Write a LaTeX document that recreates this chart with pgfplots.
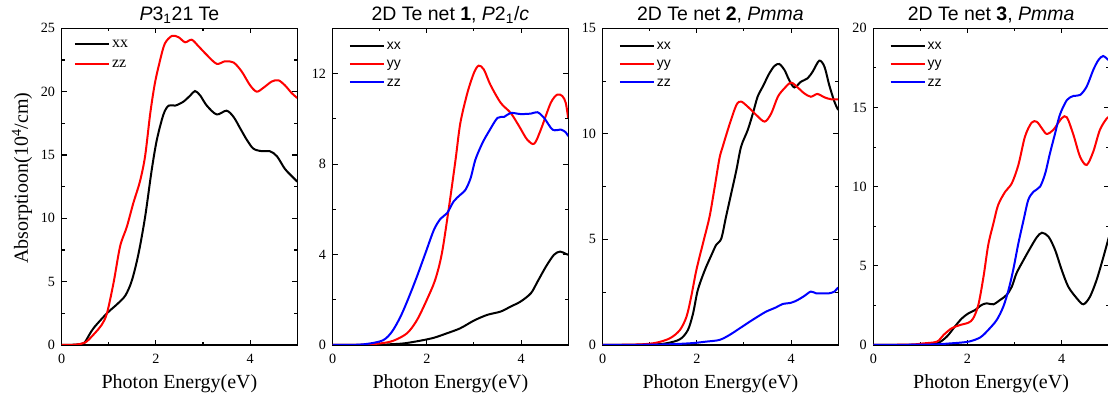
\documentclass[border=0pt]{standalone}
\usepackage{fontspec}
\setmainfont{Liberation Serif}
\newfontfamily\arial{Liberation Sans}
\usepackage{pgfplots}
\pgfplotsset{compat=1.18}
\pgfplotsset{
 panel/.style={
  scale only axis, width=176.6pt, height=237.5pt, anchor=south west,
  xmin=0, xmax=5, xtick={0,2,4}, minor xtick={1,3,5},
  axis line style={line width=0.9pt},
  every tick/.style={line width=0.8pt, black},
  major tick length=3.8pt, minor tick length=2.3pt,
  ticklabel style={font=\fontsize{10.6}{12}\selectfont},
  xticklabel style={yshift=-3pt},
  yticklabel style={xshift=-1.5pt},
  /pgf/number format/assume math mode=true,
  xlabel={Photon Energy(eV)},
  xlabel style={font=\fontsize{15}{18}\selectfont, at={(axis description cs:0.5,0)}, anchor=base, yshift=-32.5pt},
  every axis title shift=0pt,
  title style={font=\arial\fontsize{14.6}{17}\selectfont, at={(axis description cs:0.5,1)}, anchor=base, yshift=5.7pt},
  every axis plot/.append style={line width=1.5pt, smooth},
  legend cell align=left,
  legend image code/.code={\draw[##1] (0pt,0pt) -- (25.5pt,0pt);},
 },
 leg/.style={legend style={at={(0,1)}, anchor=north west, draw=none, fill=none, inner sep=0pt,
   font=\arial\fontsize{10.5}{12}\selectfont, row sep=0pt,
   nodes={inner xsep=1.5pt, inner ysep=0pt, text height=9.75pt, text depth=4pt}, xshift=12pt, yshift=-6pt}},
 legone/.style={legend style={at={(0,1)}, anchor=north west, draw=none, fill=none, inner sep=0pt,
   font=\fontsize{12}{14}\selectfont, row sep=0pt,
   nodes={inner xsep=1.5pt, inner ysep=0pt, text height=10.5pt, text depth=4.5pt}, xshift=9pt, yshift=-4pt}},
}
\begin{document}
\begin{tikzpicture}
% Panel 1
\begin{axis}[panel, legone, at={(46.3pt,42.75pt)},
  ymin=0, ymax=25, ytick={0,5,...,25}, minor ytick={2.5,7.5,...,22.5},
  title={{\itshape P}3\textsubscript{1}21 Te},
  ylabel={Absorptioon(10\textsuperscript{4}/cm)},
  ylabel style={font=\fontsize{15}{18}\selectfont, at={(axis description cs:-0.1687,0.527)}, anchor=center}]
\addplot[black] coordinates {(0,0)(0.3,0.03)(0.45,0.12)(0.5,0.26)(0.67,1.3)(0.96,2.5)(1.17,3.2)(1.35,3.9)(1.49,5.1)(1.63,7.2)(1.77,10.1)(1.91,13.8)(2.02,16.2)(2.16,18.2)(2.27,18.9)(2.41,18.9)(2.58,19.2)(2.73,19.7)(2.83,20.05)(2.94,19.7)(3.08,18.9)(3.29,18.2)(3.50,18.5)(3.65,18.0)(3.79,17.1)(3.93,16.2)(4.07,15.5)(4.25,15.3)(4.42,15.3)(4.57,14.9)(4.74,13.9)(4.92,13.2)(5.0,12.9)};
\addlegendentry{xx}
\addplot[red] coordinates {(0,0)(0.3,0.03)(0.5,0.2)(0.67,0.8)(0.85,1.6)(0.96,2.5)(1.10,4.9)(1.24,7.8)(1.38,9.3)(1.52,11.2)(1.66,12.9)(1.77,14.9)(1.88,18.3)(1.98,20.7)(2.09,22.5)(2.19,23.8)(2.34,24.4)(2.48,24.3)(2.62,23.9)(2.76,24.1)(2.90,23.6)(3.08,22.9)(3.29,22.2)(3.47,22.4)(3.65,22.3)(3.82,21.6)(4.0,20.5)(4.14,20.0)(4.28,20.3)(4.46,20.8)(4.60,20.9)(4.74,20.5)(4.88,19.9)(5.0,19.5)};
\addlegendentry{zz}
\end{axis}
% Panel 2
\begin{axis}[panel, leg, at={(249.5pt,42.75pt)},
  ymin=0, ymax=14, ytick={0,4,8,12}, minor ytick={2,6,10,14},
  title={2D Te net \textbf{1}, {\itshape P}2\textsubscript{1}/{\itshape c}}]
\addplot[black] coordinates {(0,0)(1.0,0.01)(1.2,0.03)(1.51,0.07)(1.86,0.19)(2.15,0.32)(2.43,0.52)(2.71,0.74)(3.0,1.08)(3.28,1.33)(3.57,1.48)(3.78,1.7)(3.99,1.92)(4.21,2.29)(4.35,2.8)(4.53,3.47)(4.70,3.99)(4.83,4.13)(4.95,4.03)(5.0,3.99)};
\addlegendentry{xx}
\addplot[red] coordinates {(0,0)(0.6,0.01)(1.01,0.07)(1.29,0.19)(1.58,0.52)(1.79,1.1)(2.0,2.0)(2.18,2.9)(2.32,4.06)(2.47,6.1)(2.61,8.2)(2.71,9.8)(2.86,11.14)(3.0,12.03)(3.10,12.35)(3.21,12.18)(3.35,11.5)(3.57,10.7)(3.78,10.26)(3.96,9.67)(4.13,9.08)(4.28,8.9)(4.42,9.52)(4.63,10.7)(4.77,11.07)(4.88,11.0)(4.95,10.7)(5.0,10.04)};
\addlegendentry{yy}
\addplot[blue] coordinates {(0,0)(0.5,0.01)(0.80,0.07)(1.08,0.22)(1.26,0.59)(1.44,1.25)(1.61,2.07)(1.79,3.03)(1.97,4.06)(2.15,5.09)(2.29,5.58)(2.43,5.83)(2.57,6.35)(2.71,6.64)(2.82,6.86)(2.93,7.38)(3.03,8.19)(3.18,8.93)(3.32,9.45)(3.50,10.04)(3.64,10.08)(3.78,10.26)(3.99,10.21)(4.21,10.23)(4.35,10.29)(4.49,10.04)(4.67,9.52)(4.85,9.52)(4.95,9.4)(5.0,9.23)};
\addlegendentry{zz}
\end{axis}
% Panel 3
\begin{axis}[panel, leg, at={(452.0pt,42.75pt)},
  ymin=0, ymax=15, ytick={0,5,10,15}, minor ytick={2.5,7.5,12.5},
  title={2D Te net \textbf{2}, {\itshape Pmma}}]
\addplot[black] coordinates {(0,0)(1.0,0.02)(1.35,0.08)(1.64,0.27)(1.81,0.71)(1.92,1.5)(2.02,2.6)(2.17,3.55)(2.31,4.26)(2.41,4.74)(2.52,5.05)(2.62,6.08)(2.73,7.18)(2.84,8.29)(2.94,9.4)(3.08,10.18)(3.19,10.97)(3.29,11.76)(3.40,12.24)(3.54,12.87)(3.65,13.22)(3.75,13.31)(3.86,13.03)(3.96,12.55)(4.07,12.2)(4.21,12.47)(4.35,12.63)(4.46,12.95)(4.60,13.47)(4.71,13.18)(4.81,12.32)(4.92,11.53)(5.0,11.13)};
\addlegendentry{xx}
\addplot[red] coordinates {(0,0)(0.8,0.03)(1.14,0.11)(1.43,0.32)(1.64,0.71)(1.78,1.34)(1.88,2.29)(1.99,3.55)(2.13,4.82)(2.27,6.08)(2.38,7.5)(2.48,8.84)(2.55,9.4)(2.69,10.42)(2.84,11.37)(2.94,11.53)(3.08,11.29)(3.26,10.9)(3.44,10.58)(3.58,10.97)(3.72,11.76)(3.86,12.16)(4.0,12.43)(4.14,12.2)(4.28,11.92)(4.42,11.76)(4.56,11.89)(4.71,11.73)(4.85,11.64)(5.0,11.64)};
\addlegendentry{yy}
\addplot[blue] coordinates {(0,0)(1.2,0.02)(1.85,0.08)(2.20,0.16)(2.48,0.24)(2.69,0.47)(2.91,0.79)(3.12,1.1)(3.29,1.34)(3.47,1.58)(3.68,1.78)(3.82,1.94)(4.0,2.0)(4.14,2.13)(4.28,2.32)(4.42,2.53)(4.53,2.45)(4.67,2.45)(4.81,2.45)(4.92,2.53)(5.0,2.73)};
\addlegendentry{zz}
\end{axis}
% Panel 4
\begin{axis}[panel, leg, at={(655.0pt,42.75pt)},
  ymin=0, ymax=20, ytick={0,5,...,20}, minor ytick={2.5,7.5,...,17.5},
  title={2D Te net \textbf{3}, {\itshape Pmma}}]
\addplot[black] coordinates {(0,0)(1.0,0.02)(1.35,0.1)(1.56,0.53)(1.73,1.16)(1.88,1.68)(2.02,2.0)(2.16,2.21)(2.30,2.53)(2.41,2.63)(2.55,2.57)(2.69,2.84)(2.83,3.16)(2.94,3.68)(3.04,4.53)(3.19,5.37)(3.33,6.11)(3.47,6.8)(3.58,7.09)(3.72,6.84)(3.86,6.0)(4.0,4.74)(4.14,3.68)(4.32,2.95)(4.46,2.57)(4.60,3.05)(4.74,4.1)(4.88,5.5)(5.0,6.8)};
\addlegendentry{xx}
\addplot[red] coordinates {(0,0)(0.8,0.03)(1.06,0.1)(1.35,0.21)(1.49,0.63)(1.66,1.05)(1.84,1.26)(2.02,1.41)(2.12,1.68)(2.23,2.53)(2.34,4.32)(2.44,6.32)(2.55,7.68)(2.65,8.84)(2.80,9.68)(2.94,10.21)(3.08,11.37)(3.22,13.16)(3.36,14.04)(3.47,14.1)(3.58,13.68)(3.68,13.33)(3.82,13.58)(4.0,14.32)(4.11,14.38)(4.25,13.26)(4.39,11.89)(4.53,11.37)(4.67,12.21)(4.81,13.58)(4.96,14.32)(5.05,14.5)};
\addlegendentry{yy}
\addplot[blue] coordinates {(0,0)(1.2,0.03)(1.63,0.1)(2.02,0.21)(2.27,0.48)(2.44,0.95)(2.62,1.58)(2.76,2.42)(2.87,3.47)(2.97,4.74)(3.08,6.42)(3.19,7.89)(3.29,9.16)(3.40,9.68)(3.54,10.0)(3.65,10.84)(3.75,12.1)(3.86,13.37)(3.96,14.53)(4.11,15.47)(4.25,15.73)(4.39,15.79)(4.53,16.32)(4.67,17.37)(4.78,18.0)(4.88,18.25)(4.99,18.0)};
\addlegendentry{zz}
\end{axis}
\pgfresetboundingbox
\useasboundingbox (0pt,0pt) rectangle (831pt,301.5pt);
\end{tikzpicture}
\end{document}
